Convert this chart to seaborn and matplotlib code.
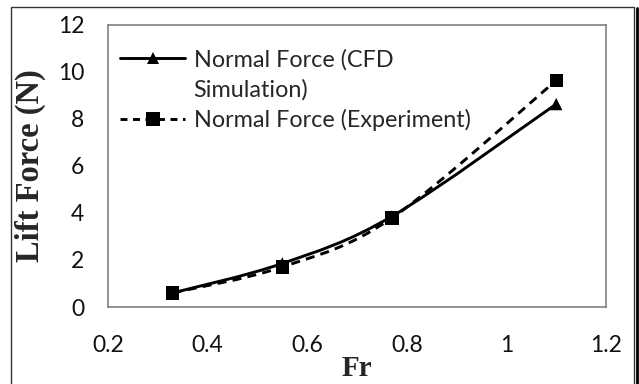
import numpy as np
import pandas as pd
import matplotlib
matplotlib.use("Agg")
import matplotlib.pyplot as plt
from matplotlib.path import Path
from matplotlib.patches import PathPatch, Rectangle
from matplotlib.lines import Line2D
import seaborn as sns

# ---- data ----
fr = [0.33, 0.55, 0.77, 1.10]
cfd_force = [0.60, 1.85, 3.85, 8.62]
exp_force = [0.60, 1.70, 3.78, 9.62]
cfd_label = "Normal Force (CFD"
cfd_label2 = "Simulation)"
exp_label = "Normal Force (Experiment)"
x_ticks = [0.2, 0.4, 0.6, 0.8, 1.0, 1.2]
x_tick_labels = ["0.2", "0.4", "0.6", "0.8", "1", "1.2"]
y_ticks = [0, 2, 4, 6, 8, 10, 12]
x_title = "Fr"
y_title = "Lift Force (N)"

sns.set_style("white")
plt.rcParams["font.family"] = ["Lato", "DejaVu Sans"]
plt.rcParams["lines.scale_dashes"] = False

fig = plt.figure(figsize=(6.39, 3.84), dpi=100)
ax = fig.add_axes([108 / 639, 1 - 307 / 384, (606 - 108) / 639, (307 - 24.5) / 384])

df = pd.DataFrame({"Fr": fr * 2,
                   "Force": cfd_force + exp_force,
                   "series": ["cfd"] * len(fr) + ["exp"] * len(fr)})


def smooth_path(xs, ys):
    pts = np.column_stack([xs, ys]).astype(float)
    n = len(pts)
    verts = [pts[0]]
    codes = [Path.MOVETO]
    for i in range(n - 1):
        p0 = pts[i - 1] if i > 0 else pts[i]
        p1 = pts[i]
        p2 = pts[i + 1]
        p3 = pts[i + 2] if i + 2 < n else pts[i + 1]
        c1 = p1 + (p2 - p0) / 6.0
        c2 = p2 - (p3 - p1) / 6.0
        verts += [c1, c2, p2]
        codes += [Path.CURVE4] * 3
    return Path(verts, codes)


lw = 2.1
dash = (0, (6.5, 4.5))
ax.add_patch(PathPatch(smooth_path(fr, cfd_force), fill=False, edgecolor="black",
                       lw=lw, linestyle="-", capstyle="butt", zorder=2))
ax.add_patch(PathPatch(smooth_path(fr, exp_force), fill=False, edgecolor="black",
                       lw=lw, linestyle=dash, capstyle="butt", zorder=2))

sns.scatterplot(data=df[df.series == "cfd"], x="Fr", y="Force", marker="^", s=80,
                color="black", edgecolor="none", ax=ax, zorder=3, legend=False)
sns.scatterplot(data=df[df.series == "exp"], x="Fr", y="Force", marker="s", s=92,
                color="black", edgecolor="none", ax=ax, zorder=4, legend=False)

ax.set_xlim(0.2, 1.2)
ax.set_ylim(0, 12)
ax.set_xticks(x_ticks)
ax.set_xticklabels(x_tick_labels)
ax.set_yticks(y_ticks)
ax.tick_params(axis="both", direction="out", length=5, width=1, color="#808080",
               labelsize=16.5, labelcolor="#111111")
ax.tick_params(axis="x", pad=15)
ax.tick_params(axis="y", pad=12)
for sp in ax.spines.values():
    sp.set_color("#808080")
    sp.set_linewidth(1.2)
    sp.set_visible(True)

ax.set_xlabel(x_title, family="Liberation Serif", fontweight="bold", fontsize=21)
ax.set_ylabel(y_title, family="Liberation Serif", fontweight="bold", fontsize=23.5)
ax.xaxis.set_label_coords(0.5, (307 - 368) / 282.5)
ax.xaxis.label.set_verticalalignment("center")
ax.yaxis.set_label_coords((30 - 108) / 498, 0.5)
ax.yaxis.label.set_verticalalignment("center")

h1 = Line2D([], [], color="black", lw=lw, marker="^", markersize=9, markeredgewidth=0)
h2 = Line2D([], [], color="none", lw=0)
h3 = Line2D([], [], color="black", lw=lw, linestyle=(0, (5.0, 4.0)), marker="s",
            markersize=9.6, markeredgewidth=0)
leg = ax.legend([h1, h2, h3], [cfd_label, cfd_label2, exp_label], loc="upper left",
                bbox_to_anchor=((120 - 108) / 498, (307 - 49) / 282.5), frameon=False,
                borderpad=0, borderaxespad=0, handlelength=2.8, handletextpad=0.35,
                labelspacing=0.36, prop={"family": ["Lato"], "size": 16.8})

# outer chart frame
fig.add_artist(Rectangle((11 / 639, -0.05), (634 - 11) / 639, 1.05 - 7.5 / 384,
                         transform=fig.transFigure, fill=False, edgecolor="#333333", lw=1))
fig.add_artist(Line2D([637 / 639, 637 / 639], [0, 1 - 7.5 / 384], transform=fig.transFigure,
                      color="black", lw=2))

fig.savefig("out.png", dpi=100)
